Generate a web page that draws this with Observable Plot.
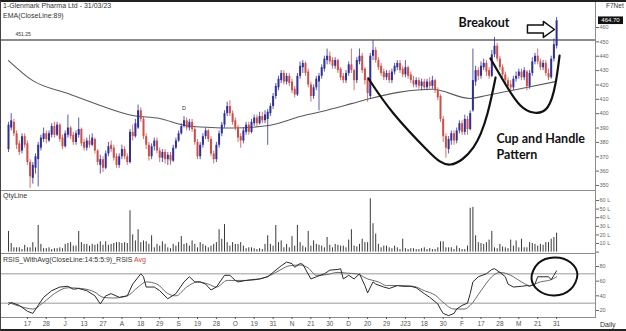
<!DOCTYPE html>
<html><head><meta charset="utf-8">
<script src="https://cdn.jsdelivr.net/npm/d3@7"></script>
<script src="https://cdn.jsdelivr.net/npm/@observablehq/plot@0.6"></script>
<style>
body{margin:0;background:#fff}
#chart{position:relative;width:626px;height:331px;overflow:hidden;background:#fff;font-family:"Liberation Sans",Arial,sans-serif;color:#333}
.lbl{position:absolute;font-size:7px;line-height:8px;white-space:nowrap;color:#333}
.panel{position:absolute;left:0}
#border{position:absolute;left:0;top:0;width:626px;height:331px;box-sizing:border-box;border-top:2px solid #222;border-left:1px solid #444;border-bottom:2px solid #222;pointer-events:none}
</style></head><body>
<div id="chart">
 <div class="panel" id="p1" style="top:0px"></div>
 <div class="panel" id="p2" style="top:190px"></div>
 <div class="panel" id="p3" style="top:253px"></div>
 <div class="lbl" style="left:3px;top:2px">1-Glenmark Pharma Ltd - 31/03/23</div>
 <div class="lbl" style="left:3px;top:12px">EMA(CloseLine:89)</div>
 <div class="lbl" style="left:606px;top:2px;font-size:6.5px">F7Net</div>
 <div class="lbl" style="left:3px;top:192px">QtyLine</div>
 <div class="lbl" style="left:3px;top:256px">RSIS_WithAvg(CloseLine:14:5:5:9)_RSIS <span style="color:#d04545">Avg</span></div>
 <div class="lbl" style="left:600px;top:321px">Daily</div>
 <div id="border"></div>
</div>
<script>
// ---------- data ----------
const opens = [375,390,394,386,379,374,384,379,366,355, 362,368,376,382,386,381,385,391,385,392, 383,377,385,390,385,380,385,389,380,376, 381,378,382,374,364,368,362,372,378,376, 370,364,370,375,370,366,387,384,390,402, 396,384,378,370,377,381,374,369,373,368, 371,367,376,381,386,391,395,390,394,389, 380,370,378,384,388,382,372,368,378,386, 392,400,405,400,395,390,384,381,387,392, 387,393,397,393,398,395,396,400,405,412, 418,423,428,422,426,422,417,413,426,432, 435,429,420,412,418,422,426,431,437,440, 437,433,437,431,426,423,428,434,430,423, 436,440,431,424,412,440,444,437,433,429, 425,428,423,429,432,435,431,427,432,427, 423,420,423,419,422,418,422,419,423,416, 412,396,384,375,381,386,381,388,393,387, 396,389,402,422,430,426,432,435,430,426, 441,447,438,432,427,423,420,418,424,426, 429,425,429,419,428,436,440,436,432,435, 428,425,438,447];
const highs = [394,400,396,388,381,386,386,381,368,366, 372,380,385,390,388,388,393,394,394,393, 385,388,399,391,387,388,397,390,382,383, 385,386,383,375,371,370,374,380,381,378, 372,372,378,377,372,389,392,396,406,404, 398,386,380,379,383,383,376,375,375,373, 373,378,383,388,393,398,397,396,396,391, 382,380,386,390,389,384,374,380,388,394, 402,408,409,402,397,392,386,390,394,394, 396,399,399,401,401,402,403,407,414,421, 426,430,430,428,428,424,419,428,436,437, 436,431,422,420,426,428,434,440,445,443, 439,439,438,432,428,430,436,445,431,439, 445,442,432,425,442,451,446,439,435,431, 430,430,431,435,437,437,433,437,433,429, 426,425,425,424,424,424,425,426,424,418, 413,398,386,384,388,388,390,395,395,399, 398,402,445,433,432,436,438,437,432,444, 453,449,440,434,429,425,423,426,429,431, 431,432,430,430,439,442,445,438,437,437, 431,440,452,467];
const lows = [373,388,384,375,371,372,376,364,348,351, 358,349,374,380,379,380,383,383,384,380, 375,376,383,382,378,378,383,377,374,374, 376,377,372,364,358,359,361,370,373,367, 362,362,368,368,364,365,381,383,389,394, 382,375,367,368,374,372,366,366,365,364, 364,366,375,380,385,390,388,388,387,378, 368,368,376,382,380,370,365,366,376,384, 390,398,398,392,388,380,376,379,385,385, 386,391,391,392,393,393,378,398,403,410, 416,421,420,420,419,414,411,412,424,428, 426,418,408,410,416,402,424,429,434,434, 431,431,428,423,421,421,426,428,416,421, 434,428,420,408,410,437,435,430,426,423, 423,421,421,427,430,428,425,425,424,421, 418,418,417,416,416,416,417,417,414,409, 394,380,369,372,378,378,379,386,385,385, 385,388,401,419,423,424,430,426,424,425, 439,436,430,425,420,417,416,416,422,424, 423,423,416,417,426,434,434,430,430,426, 423,424,436,445];
const closes = [392,395,386,378,373,384,378,366,356,364, 370,378,383,386,382,386,391,385,392,382, 377,386,390,384,380,386,389,379,376,381, 378,383,374,366,368,362,372,377,375,369, 364,370,375,370,366,387,384,393,402,396, 384,378,370,377,381,374,369,373,368,371, 367,376,381,386,391,395,390,394,389,380, 370,378,384,388,382,372,368,378,386,392, 400,405,400,394,390,383,381,388,392,387, 394,397,393,398,395,399,401,405,412,419, 424,428,422,426,421,416,413,426,433,435, 428,420,412,418,424,426,432,438,440,436, 433,437,430,425,423,428,434,430,423,437, 440,430,423,414,440,444,437,432,428,425, 428,423,429,433,435,430,427,432,426,423, 420,423,419,422,418,422,419,423,416,411, 396,384,376,382,386,381,388,393,387,396, 389,400,423,430,426,433,435,429,426,441, 447,438,432,427,423,419,418,424,426,429, 425,430,419,428,436,440,436,432,435,428, 425,438,448,464.7];
// volume, lakh shares
const volumes = [24,10,5,5,5,3,8,5,5,11, 5,31,9,4,4,5,3,4,4,5, 4,9,10,11,7,7,24,11,9,9, 7,9,8,9,12,8,12,8,9,10, 11,11,10,11,10,48,20,13,26,11, 13,12,9,19,5,9,7,12,9,5, 4,9,7,11,18,9,10,7,13,9, 5,11,9,7,5,7,9,11,26,15, 32,11,7,11,9,9,11,7,4,5, 5,4,3,4,3,9,19,9,7,31, 11,13,5,9,5,18,7,31,11,7, 5,24,7,13,9,8,7,5,17,8, 5,9,8,7,7,5,14,26,7,6, 9,15,11,11,62,33,21,9,5,7, 7,5,4,7,5,3,15,4,3,4, 4,3,3,4,5,3,4,3,3,5, 12,12,5,5,5,3,7,4,3,3, 7,51,52,19,11,10,9,11,14,24, 5,4,9,6,5,4,14,7,13,5, 15,5,5,11,10,9,7,9,8,11, 11,15,17,22];
// EMA(89) read at bar positions
const emaIdx = [0,9,22,34,46,56,65,75,83,97,108,116,127,134,145,157,171,177,190,203];
const emaVals = [437,423,414,405.7,398.7,396.7,392,390.4,390,392,398,401.5,407,410.6,415,417,410.6,412.7,417.5,422.5];
// RSI and its average
const rsiIdx = [0,1,4,7,9,11,13,16,19,22,24,26,29,32,34,36,38,41,44,46,49,50,51,54,56,59,62,65,67,69,71,73,75,77,80,82,84,85,88,90,93,96,98,101,103,105,106,108,109,112,114,117,119,122,123,124,126,128,130,132,133,135,136,139,141,144,146,149,151,154,156,159,160,161,163,165,166,168,170,171,172,174,177,179,180,182,184,185,187,190,192,193,195,196,198,200,201,202,203];
const rsiVals = [28,31,27,19,16,27,38,47,52,53,49,50,47,40,29,40,43,38,40,56,70,66,52,52,47,36,43,59,66,59,59,56,48,52,68,68,61,59,61,62,63,66,72,81,86,84,79,84,83,63,66,70,75,76,77,63,68,63,70,54,44,59,56,52,50,54,53,53,51,43,38,29,22,16,13,16,22,27,30,43,59,66,70,76,77,72,66,56,52,53,54,53,56,66,66,66,62,68,74];
const avgIdx = [0,4,9,13,17,22,27,32,35,39,44,48,51,55,59,62,66,70,74,77,81,85,88,93,97,101,104,108,111,114,118,122,125,129,133,137,140,145,150,154,158,161,165,169,171,175,179,182,186,190,193,197,201,203];
const avgVals = [31,26,22,31,43,51,50,45,38,37,40,52,59,56,43,40,52,59,56,52,61,61,61,63,68,76,81,82,78,68,69,72,71,70,63,59,54,54,53,47,41,31,22,22,27,47,66,72,68,59,54,59,62,66];
// axes
const tickIdx = [7,14,21,28,35,42,49,56,63,70,77,84,91,98,105,112,119,126,133,140,147,154,161,168,175,182,189,196,203];
const tickLabels = ["17","28","J","13","27","A","18","29","S","19","28","O","19","31","N","21","30","D","20","29","J23","18","30","F","17","28","M","21","31"];
const priceTicks = [350,360,370,380,390,400,410,420,430,440,450,460];
const volTicks = [0,10,20,30,40,50,60];
const rsiTicks = [20,40,60,80];
const rsiLevels = [70,30];
const resistance = 451.25;
// annotations (bar index, value)
const cupIdx = [133.3,142.6,155.2,163.7,172.2,177.4,180.4];
const cupVals = [424.5,400.1,374.4,364.6,376.5,400.1,425.2];
const handleIdx = [178.5,184.8,189.6,194.4,199.6,202.6,204.1];
const handleVals = [438.4,418.2,405.7,400.8,404.3,421,440.5];
const arrowIdx = [192.2,198.1,198.1,202.2,198.1,198.1,192.2];
const arrowVals = [461.8,461.8,464.2,458.6,453.1,456.2,456.2];
const ellIdx = [210.7,208.2,202.2,196.2,193.7,196.2,202.2,208.2];
const ellVals = [69,85.5,92.4,84.5,64,47.5,40.4,49];
const notes = [
  {i:166.7, v:463, text:"Breakout"},
  {i:180.7, v:382.6, text:"Cup and Handle"},
  {i:180.7, v:371.2, text:"Pattern"}
];
const divMark = [{i:65, v:403.5, text:"D"}];

// ---------- build ----------
const N = closes.length;
const X0 = 8, STEP = 2.7, W = 626, MR = 31;
const xs = {domain:[0, N-1], range:[X0, X0 + STEP*(N-1)], axis:null};
const bars = d3.range(N).map(i => ({i, o:opens[i], h:highs[i], l:lows[i], c:closes[i], vol:volumes[i]}));
const upB = bars.filter(d => d.c >= d.o), dnB = bars.filter(d => d.c < d.o);
const UP = "#30309a", DN = "#cc4f4a";
const pts = (a, b) => a.map((x, k) => ({i:x, v:b[k]}));
const baseStyle = {background:"transparent", overflow:"visible", fontFamily:"Liberation Sans, Arial, sans-serif", color:"#555"};
const FRAME = "#8c8c8c";

function lastBox(index, scales, values, dims) {
  const v = closes[N-1];
  const y = scales.y(v);
  const x0 = dims.width - dims.marginRight + 3;
  const g = d3.create("svg:g");
  g.append("rect").attr("x", x0).attr("y", y - 3.8).attr("width", 25).attr("height", 7.6).attr("fill", "#111");
  g.append("text").attr("x", x0 + 12.5).attr("y", y).attr("dy", "0.35em").attr("text-anchor", "middle")
    .attr("fill", "#fff").attr("font-size", 6).attr("font-family", "Liberation Sans, Arial, sans-serif").text(v.toFixed(2));
  return g.node();
}

const price = Plot.plot({
  width: W, height: 191, marginLeft: 0, marginRight: MR, marginTop: 1, marginBottom: 1,
  style: baseStyle,
  x: xs,
  y: {domain:[350,460], range:[185,27], axis:null},
  marks: [
    Plot.frame({stroke: FRAME}),
    Plot.axisY({anchor:"right", ticks: priceTicks, tickSize:3, tickPadding:1, fontSize:5.5, label:null, color:"#666"}),
    Plot.ruleY([resistance], {stroke:"#666", strokeWidth:1.4}),
    Plot.text([resistance], {y:d=>d, text:d=>d.toFixed(2), frameAnchor:"left", dx:15, dy:-6, fontSize:5, fill:"#333", textAnchor:"start"}),
    Plot.line(pts(emaIdx, emaVals), {x:"i", y:"v", stroke:"#5a5a5a", strokeWidth:1.1, curve:"monotone-x"}),
    Plot.ruleX(upB, {x:"i", y1:"l", y2:"h", stroke:UP, strokeWidth:0.8}),
    Plot.ruleX(dnB, {x:"i", y1:"l", y2:"h", stroke:DN, strokeWidth:0.8}),
    Plot.ruleX(upB, {x:"i", y1:"o", y2:"c", stroke:UP, strokeWidth:2}),
    Plot.ruleX(dnB, {x:"i", y1:"o", y2:"c", stroke:DN, strokeWidth:2}),
    Plot.text(divMark, {x:"i", y:"v", text:"text", fontSize:5.5, fill:"#333"}),
    Plot.line(pts(cupIdx, cupVals), {x:"i", y:"v", stroke:"#111", strokeWidth:2.2, curve:"natural"}),
    Plot.line(pts(handleIdx, handleVals), {x:"i", y:"v", stroke:"#111", strokeWidth:2.2, curve:"natural"}),
    Plot.line(pts(arrowIdx, arrowVals), {x:"i", y:"v", stroke:"#111", strokeWidth:1.5, fill:"#fff", curve:"linear-closed"}),
    Plot.text(notes, {x:"i", y:"v", text:"text", fontSize:12.5, fontWeight:"bold", fontFamily:"Lato", fill:"#111", textAnchor:"start", lineAnchor:"middle"}),
    lastBox
  ]
});

const volume = Plot.plot({
  width: W, height: 63, marginLeft: 0, marginRight: MR, marginTop: 0, marginBottom: 0,
  style: baseStyle,
  x: xs,
  y: {domain:[0,60], range:[61.6,10], axis:null},
  marks: [
    Plot.frame({stroke: FRAME}),
    Plot.axisY({anchor:"right", ticks: volTicks, tickSize:3, tickPadding:1, fontSize:5.5, label:null, color:"#666", tickFormat: d => d ? d + " L" : ""}),
    Plot.ruleX(bars, {x:"i", y1:0, y2:"vol", stroke:"#3a3a3a", strokeWidth:1})
  ]
});

const rsi = Plot.plot({
  width: W, height: 78, marginLeft: 0, marginRight: MR, marginTop: 0, marginBottom: 14,
  style: baseStyle,
  x: xs,
  y: {domain:[20,80], range:[57,13], axis:null},
  marks: [
    Plot.frame({stroke: FRAME}),
    Plot.ruleY(rsiLevels, {stroke:"#9a9a9a", strokeWidth:1}),
    Plot.axisY({anchor:"right", ticks: rsiTicks, tickSize:3, tickPadding:1, fontSize:5.5, label:null, color:"#666"}),
    Plot.axisX({anchor:"bottom", ticks: tickIdx, tickSize:2, tickPadding:2, fontSize:6.5, label:null, color:"#555", tickFormat: d => tickLabels[tickIdx.indexOf(d)]}),
    Plot.line(pts(avgIdx, avgVals), {x:"i", y:"v", stroke:"#6a6a6a", strokeWidth:1, curve:"monotone-x"}),
    Plot.line(pts(rsiIdx, rsiVals), {x:"i", y:"v", stroke:"#2a2a2a", strokeWidth:1}),
    Plot.line(pts(ellIdx, ellVals), {x:"i", y:"v", stroke:"#111", strokeWidth:2, curve:"catmull-rom-closed"})
  ]
});

document.getElementById("p1").appendChild(price);
document.getElementById("p2").appendChild(volume);
document.getElementById("p3").appendChild(rsi);
</script>
</body></html>
